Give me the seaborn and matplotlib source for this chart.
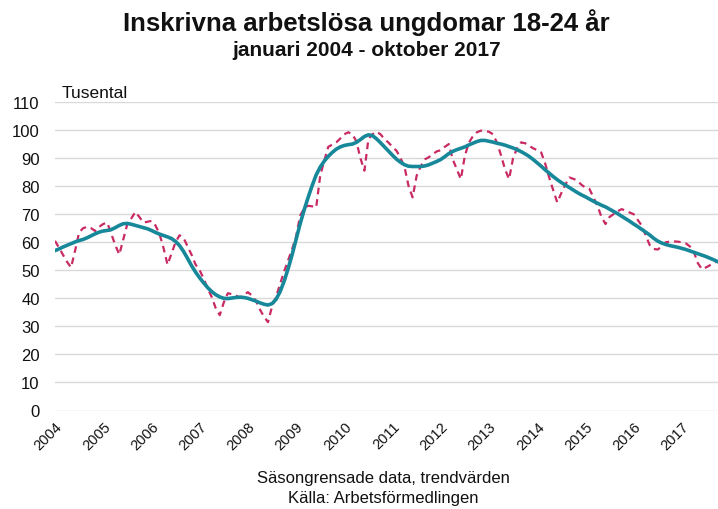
import numpy as np
import pandas as pd
import seaborn as sns
import matplotlib.pyplot as plt

# Monthly values, thousands, Jan 2004 - Oct 2017
years = [str(y) for y in range(2004, 2018)]

sasong = [
    60.5, 58.0, 55.5, 53.0, 51.0, 57.0, 63.5, 65.0, 65.5, 65.0, 64.0, 65.5,   # 2004
    66.5, 67.0, 63.0, 59.0, 55.6, 61.0, 66.5, 68.5, 70.8, 69.0, 67.0, 67.3,   # 2005
    67.6, 66.0, 63.0, 58.0, 52.0, 56.0, 60.0, 62.5, 61.5, 58.5, 55.5, 52.0,   # 2006
    50.0, 47.0, 43.5, 40.5, 36.5, 34.0, 38.5, 41.8, 41.5, 41.0, 40.3, 41.2,   # 2007
    42.2, 41.0, 39.1, 36.0, 33.5, 31.5, 37.0, 40.5, 45.0, 49.5, 53.5, 57.5,   # 2008
    62.0, 69.5, 72.0, 73.0, 72.8, 72.4, 83.7, 89.0, 94.0, 94.8, 95.6, 97.0,   # 2009
    98.5, 99.2, 98.5, 96.0, 90.0, 85.5, 96.8, 98.5, 99.4, 98.5, 96.8, 95.5,   # 2010
    94.0, 92.6, 90.0, 86.7, 80.0, 76.0, 83.7, 87.0, 89.5, 90.3, 91.3, 92.4,   # 2011
    92.8, 94.0, 95.0, 89.5, 86.0, 82.5, 90.8, 95.5, 97.8, 99.2, 99.8, 99.6,   # 2012
    99.4, 98.5, 95.5, 91.0, 86.0, 82.5, 90.0, 93.5, 95.6, 95.3, 94.4, 93.5,   # 2013
    92.8, 92.0, 88.0, 83.0, 78.5, 74.2, 77.5, 80.5, 83.1, 82.6, 82.0, 80.5,   # 2014
    79.5, 79.0, 76.0, 73.0, 69.0, 66.5, 69.0, 70.0, 71.0, 71.8, 71.3, 70.6,   # 2015
    70.0, 68.0, 66.0, 62.5, 59.0, 57.6, 57.4, 58.5, 60.0, 60.2, 60.3, 60.2,   # 2016
    60.0, 59.6, 58.5, 56.5, 52.5, 50.4, 51.0, 51.8, 52.6, 53.4,               # 2017
]

trend = [
    57.0, 57.6, 58.3, 58.9, 59.5, 60.1, 60.6, 61.0, 61.6, 62.3, 63.0, 63.6,   # 2004
    64.0, 64.2, 64.5, 65.2, 66.0, 66.6, 66.7, 66.4, 66.0, 65.6, 65.2, 64.8,   # 2005
    64.2, 63.5, 62.9, 62.4, 61.9, 61.3, 60.3, 58.8, 56.7, 54.2, 51.6, 49.3,   # 2006
    47.3, 45.5, 43.8, 42.4, 41.3, 40.5, 40.0, 39.9, 40.1, 40.3, 40.4, 40.3,   # 2007
    40.0, 39.5, 39.0, 38.4, 37.9, 37.6, 38.1, 39.6, 42.3, 46.0, 50.5, 55.5,   # 2008
    61.0, 66.5, 71.5, 76.0, 80.2, 84.0, 86.8, 88.9, 90.6, 92.0, 93.2, 94.0,   # 2009
    94.5, 94.8, 95.0, 95.6, 96.6, 97.7, 98.3, 98.0, 96.9, 95.5, 94.0, 92.5,   # 2010
    91.0, 89.6, 88.5, 87.6, 87.1, 87.0, 87.0, 87.0, 87.2, 87.6, 88.2, 88.8,   # 2011
    89.5, 90.5, 91.6, 92.4, 93.0, 93.5, 94.0, 94.7, 95.3, 95.9, 96.3, 96.3,   # 2012
    96.0, 95.7, 95.3, 95.0, 94.6, 94.1, 93.6, 93.0, 92.3, 91.5, 90.6, 89.5,   # 2013
    88.3, 87.1, 85.8, 84.6, 83.4, 82.3, 81.3, 80.4, 79.5, 78.6, 77.7, 76.9,   # 2014
    76.2, 75.4, 74.6, 73.9, 73.2, 72.6, 71.8, 71.0, 70.2, 69.3, 68.4, 67.5,   # 2015
    66.5, 65.6, 64.6, 63.6, 62.6, 61.4, 60.4, 59.7, 59.2, 58.8, 58.5, 58.2,   # 2016
    57.8, 57.4, 56.9, 56.4, 55.9, 55.4, 54.9, 54.3, 53.7, 53.0,               # 2017
]

yticks = list(range(0, 111, 10))

df = pd.DataFrame({'manad': np.arange(len(trend)), 'sasong': sasong, 'trend': trend})

sns.set_style('white')
plt.rcParams['font.family'] = ['Liberation Sans', 'DejaVu Sans']
plt.rcParams['text.color'] = '#111111'
plt.rcParams['xtick.color'] = '#111111'
plt.rcParams['ytick.color'] = '#111111'

fig = plt.figure(figsize=(7.18, 5.10), dpi=100)
ax = fig.add_axes([55 / 718, 1 - 411.5 / 510, 1 - 55 / 718, (411.5 - 103) / 510])

sns.lineplot(x='manad', y='sasong', data=df, ax=ax, color='#c92a64', lw=1.6,
             dashes=False, linestyle=(0, (3.0, 2.2)))
sns.lineplot(x='manad', y='trend', data=df, ax=ax, color='#17889a', lw=2.6)

ax.set_ylim(0, 110)
ax.set_xlim(0, len(trend) - 1)
ax.set_yticks(yticks)
ax.set_xticks(np.arange(0, len(trend), 12))
ax.set_xticklabels(years, rotation=45, ha='right', rotation_mode='anchor', fontsize=10.5)
ax.tick_params(axis='y', labelsize=12, length=0, pad=11)
ax.tick_params(axis='x', length=0, pad=6)
ax.grid(axis='y', color='#d9d9d9', lw=1.0)
ax.set_axisbelow(True)
sns.despine(ax=ax, left=True, bottom=True)
ax.set_xlabel('')
ax.set_ylabel('')

fig.text(0.51, 1 - 23 / 510, 'Inskrivna arbetslösa ungdomar 18-24 år', ha='center', va='center',
         fontsize=18.5, fontweight='bold')
fig.text(0.51, 1 - 50 / 510, 'januari 2004 - oktober 2017', ha='center', va='center',
         fontsize=15, fontweight='bold')
fig.text(62 / 718, 1 - 93 / 510, 'Tusental', ha='left', va='center', fontsize=12.5)
fig.text(383 / 718, 1 - 479 / 510, 'Säsongrensade data, trendvärden', ha='center', va='center',
         fontsize=12)
fig.text(383 / 718, 1 - 499 / 510, 'Källa: Arbetsförmedlingen', ha='center', va='center',
         fontsize=12)

fig.savefig('out.png', dpi=100)
